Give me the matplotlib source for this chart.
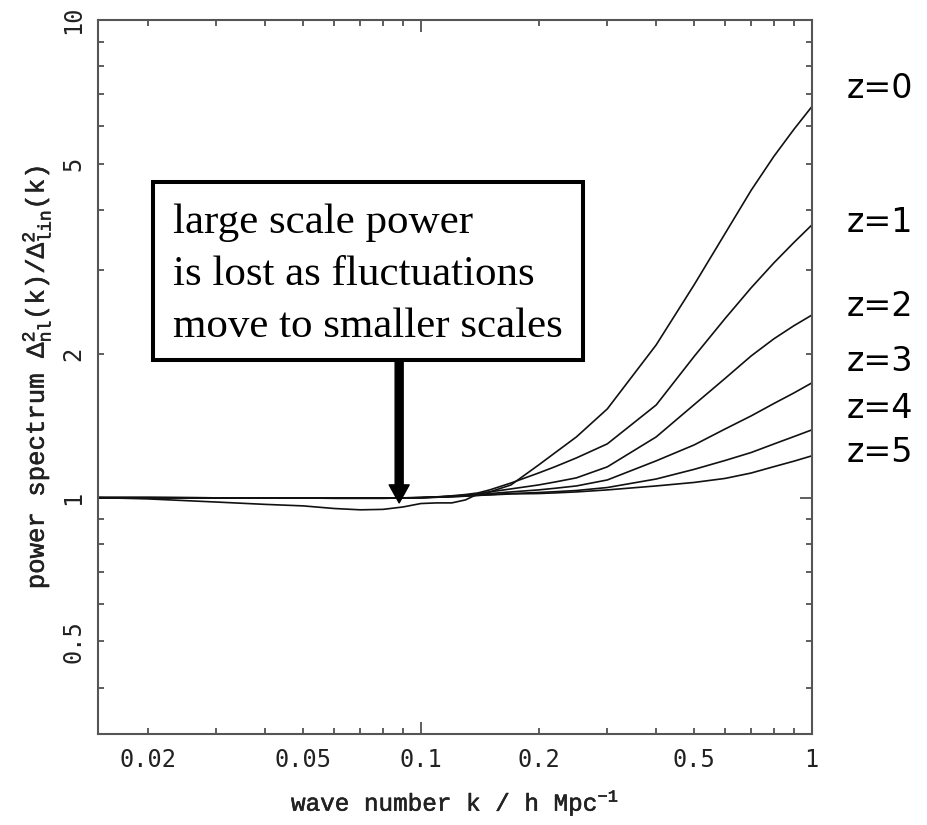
import numpy as np
import matplotlib.pyplot as plt
import matplotlib.patheffects as pe
from matplotlib.patches import Rectangle, FancyArrowPatch
from matplotlib.ticker import FixedLocator, FuncFormatter

plt.rcParams['mathtext.fontset'] = 'custom'
plt.rcParams['mathtext.rm'] = 'Liberation Mono'
plt.rcParams['mathtext.it'] = 'Liberation Mono'

# wave numbers (h/Mpc) and ratio of non-linear to linear power
k = [0.015, 0.02, 0.03, 0.04, 0.05, 0.06, 0.07, 0.08, 0.09, 0.1, 0.11, 0.12, 0.13,
     0.14, 0.15, 0.17, 0.2, 0.22, 0.25, 0.3, 0.4, 0.5, 0.6, 0.7, 0.8, 0.9, 1.0]

ratio_z0 = [1.0, 0.994, 0.979, 0.968, 0.961, 0.949, 0.943, 0.945, 0.956, 0.972, 0.975, 0.975, 0.989,
            1.018, 1.028, 1.063, 1.17, 1.24, 1.34, 1.534, 2.088, 2.788, 3.57, 4.40, 5.18, 5.90, 6.58]
ratio_z1 = [1.0, 1.0, 0.999, 0.998, 0.998, 0.997, 0.997, 0.997, 0.998, 1.0, 1.004, 1.009, 1.015,
            1.023, 1.038, 1.073, 1.126, 1.16, 1.211, 1.296, 1.563, 1.974, 2.37, 2.75, 3.10, 3.42, 3.72]
ratio_z2 = [1.0, 1.0, 0.999, 0.998, 0.998, 0.997, 0.997, 0.997, 0.998, 1.0, 1.003, 1.007, 1.012,
            1.018, 1.028, 1.043, 1.063, 1.078, 1.10, 1.16, 1.34, 1.565, 1.776, 1.98, 2.15, 2.29, 2.41]
ratio_z3 = [1.0, 1.0, 0.999, 0.999, 0.998, 0.998, 0.998, 0.998, 0.999, 1.0, 1.003, 1.006, 1.01,
            1.013, 1.02, 1.028, 1.038, 1.046, 1.058, 1.089, 1.194, 1.289, 1.392, 1.483, 1.574, 1.656, 1.738]
ratio_z4 = [1.0, 1.0, 0.999, 0.999, 0.999, 0.998, 0.998, 0.998, 0.999, 1.0, 1.002, 1.005, 1.008,
            1.011, 1.015, 1.02, 1.025, 1.029, 1.035, 1.05, 1.094, 1.146, 1.196, 1.243, 1.295, 1.342, 1.386]
ratio_z5 = [1.0, 1.0, 0.999, 0.999, 0.999, 0.998, 0.998, 0.998, 0.999, 1.0, 1.002, 1.004, 1.007,
            1.011, 1.013, 1.018, 1.02, 1.023, 1.028, 1.038, 1.058, 1.076, 1.097, 1.126, 1.161, 1.192, 1.223]

curves = [ratio_z0, ratio_z1, ratio_z2, ratio_z3, ratio_z4, ratio_z5]
z_labels = ['z=0', 'z=1', 'z=2', 'z=3', 'z=4', 'z=5']
z_label_y = [89, 222, 307, 362, 408, 453]  # pixel rows of the labels

x_ticks = [0.02, 0.05, 0.1, 0.2, 0.5, 1]
x_tick_labels = ['0.02', '0.05', '0.1', '0.2', '0.5', '1']
y_ticks = [0.5, 1, 2, 5, 10]
y_tick_labels = ['0.5', '1', '2', '5', '10']

box_lines = ['large scale power', 'is lost as fluctuations', 'move to smaller scales']

W, H = 928, 825
fig = plt.figure(figsize=(W / 100, H / 100), dpi=100)
ax = fig.add_axes([97.7 / W, 1 - 734 / H, (811.7 - 97.7) / W, (734 - 20) / H])

for r in curves:
    ax.plot(k, r, color='#111111', lw=1.2)

ax.set_xscale('log')
ax.set_yscale('log')
ax.set_xlim(0.0149, 1.0)
ax.set_ylim(0.32, 10)

mono = 'Liberation Mono'
tick_font = 'DejaVu Sans Mono'
thick = [pe.withStroke(linewidth=0.4, foreground='#222222')]


def make_fmt(ticks, labels):
    lookup = dict(zip(ticks, labels))

    def f(v, pos):
        for t, lab in lookup.items():
            if abs(v - t) < 1e-6 * t:
                return lab
        return ''
    return FuncFormatter(f)


ax.xaxis.set_major_locator(FixedLocator([0.1, 1]))
ax.xaxis.set_minor_locator(FixedLocator([m * d for d in (0.01, 0.1) for m in range(2, 10)]))
ax.yaxis.set_major_locator(FixedLocator([1, 10]))
ax.yaxis.set_minor_locator(FixedLocator([m * d for d in (0.1, 1) for m in range(2, 10)]))
ax.xaxis.set_major_formatter(make_fmt(x_ticks, x_tick_labels))
ax.xaxis.set_minor_formatter(make_fmt(x_ticks, x_tick_labels))
ax.yaxis.set_major_formatter(make_fmt(y_ticks, y_tick_labels))
ax.yaxis.set_minor_formatter(make_fmt(y_ticks, y_tick_labels))

ax.tick_params(which='both', direction='in', top=True, right=True, color='#333333', width=1.1)
ax.tick_params(which='major', length=8.5)
ax.tick_params(which='minor', length=4.3)
ax.tick_params(axis='x', which='both', pad=10)
ax.tick_params(axis='y', which='both', pad=9)
for lab in ax.get_xticklabels(which='both'):
    lab.set_fontfamily(tick_font)
    lab.set_fontsize(17)
    lab.set_color('#222222')
for lab in ax.get_yticklabels(which='both'):
    lab.set_fontfamily(tick_font)
    lab.set_fontsize(17)
    lab.set_color('#222222')
    lab.set_rotation(90)
    lab.set_va('center')

for s in ax.spines.values():
    s.set_color('#555555')
    s.set_linewidth(1.5)

xl = ax.set_xlabel(r'wave number k / h Mpc$^{-1}$', fontfamily=mono,
                   fontsize=17.5, labelpad=12, color='#222222')
yl = ax.set_ylabel(r'power spectrum $\mathrm{\Delta^2_{nl}(k)/\Delta^2_{lin}(k)}$',
                   fontfamily=mono, fontsize=18.5, labelpad=6, color='#222222')
xl.set_path_effects(thick)
yl.set_path_effects(thick)

# annotation box
box = Rectangle((153 / W, 1 - 360 / H), 430 / W, 178 / H, transform=fig.transFigure,
                facecolor='white', edgecolor='black', lw=2.9, zorder=5)
fig.patches.append(box)
for i, line in enumerate(box_lines):
    fig.text(173 / W, 1 - (233 + 52 * i) / H, line, family='Liberation Serif', fontsize=31,
             va='baseline', ha='left', zorder=6)

arrow = FancyArrowPatch((0.088, 1.94), (0.088, 0.975),
                        arrowstyle='Simple, tail_width=0.4, head_width=1.0, head_length=0.9',
                        mutation_scale=14.4, color='black', shrinkA=0, shrinkB=0, zorder=4)
ax.add_patch(arrow)

for lab, yp in zip(z_labels, z_label_y):
    fig.text(847 / W, 1 - yp / H, lab, family='DejaVu Sans', fontsize=24, va='center', ha='left')

fig.savefig('out.png', dpi=100)
